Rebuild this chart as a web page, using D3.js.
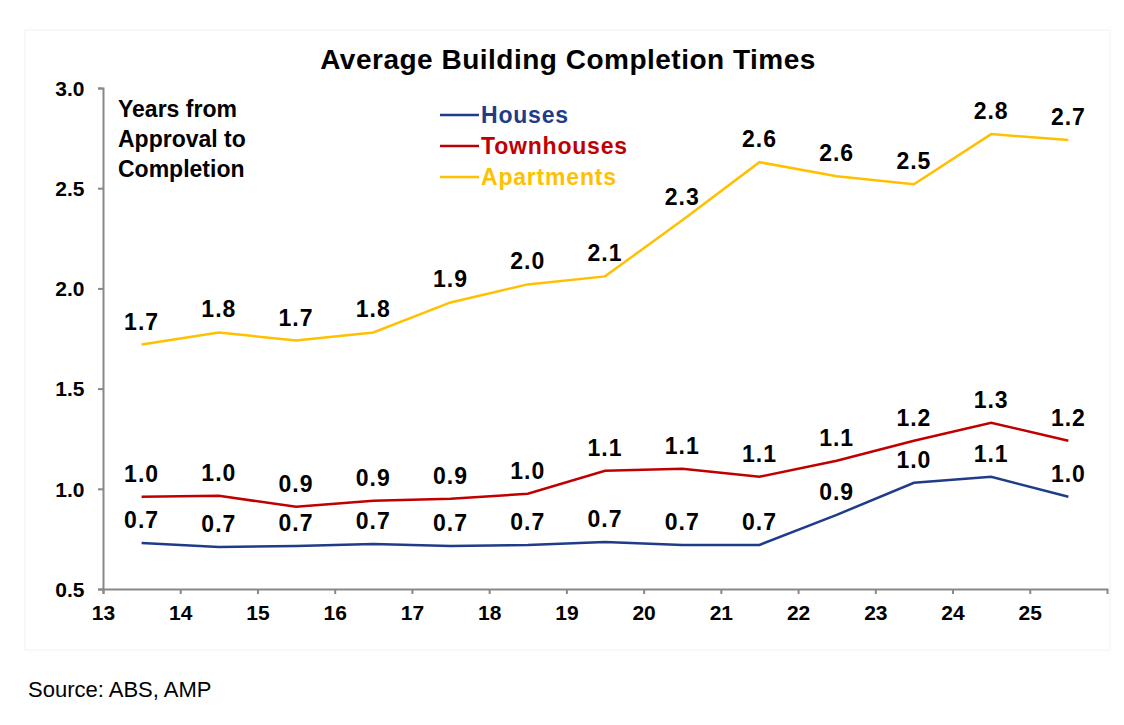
<!DOCTYPE html>
<html>
<head>
<meta charset="utf-8">
<style>
  body{margin:0;background:#fff;font-family:Arial,"Liberation Sans",sans-serif;}
  text{font-family:Arial,"Liberation Sans",sans-serif;}
  .tick text{font-size:21px;font-weight:bold;fill:#000;}
</style>
<script src="https://d3js.org/d3.v7.min.js"></script>
</head>
<body>
<script>
var years = [13,14,15,16,17,18,19,20,21,22,23,24,25];
var xTicks = [13,14,15,16,17,18,19,20,21,22,23,24,25];
var yTicks = [0.5,1.0,1.5,2.0,2.5,3.0];
var houses = [0.73,0.71,0.715,0.725,0.715,0.72,0.735,0.72,0.72,0.87,1.03,1.06,0.96];
var housesLbl = ['0.7','0.7','0.7','0.7','0.7','0.7','0.7','0.7','0.7','0.9','1.0','1.1','1.0'];
var town = [0.96,0.965,0.91,0.94,0.95,0.975,1.09,1.10,1.06,1.14,1.24,1.33,1.24];
var townLbl = ['1.0','1.0','0.9','0.9','0.9','1.0','1.1','1.1','1.1','1.1','1.2','1.3','1.2'];
var apts = [1.72,1.78,1.74,1.78,1.93,2.02,2.06,2.34,2.63,2.56,2.52,2.77,2.74];
var aptsLbl = ['1.7','1.8','1.7','1.8','1.9','2.0','2.1','2.3','2.6','2.6','2.5','2.8','2.7'];

var svg = d3.select('body').append('svg').attr('width',1124).attr('height',725);
svg.append('rect').attr('x',25).attr('y',30).attr('width',1085).attr('height',620)
  .attr('fill','none').attr('stroke','#f2f2f2');

var x = d3.scaleLinear().domain([13,26]).range([103,1107]);
var y = d3.scaleLinear().domain([0.5,3.0]).range([589,88]);

svg.append('text').attr('x',568).attr('y',69).attr('text-anchor','middle')
  .attr('font-size',28).attr('font-weight','bold').attr('letter-spacing',0.5)
  .text('Average Building Completion Times');

var gx = svg.append('g').attr('transform','translate(0,589)')
  .call(d3.axisBottom(x).tickValues(xTicks).tickSize(5).tickFormat(d3.format('d')));
gx.selectAll('text').attr('dy','1.1em');
var gy = svg.append('g').attr('transform','translate(103,0)')
  .call(d3.axisLeft(y).tickValues(yTicks).tickSize(5).tickFormat(d3.format('.1f')));
gy.selectAll('text').attr('dx','-0.5em').attr('dy','0.35em');
svg.selectAll('.domain, .tick line').attr('stroke','#888').attr('stroke-width',2);

var series = [
  {vals:apts, lbl:aptsLbl, col:'#FFC000', name:'Apartments'},
  {vals:town, lbl:townLbl, col:'#C00000', name:'Townhouses'},
  {vals:houses, lbl:housesLbl, col:'#1F3C88', name:'Houses'}
];
var line = d3.line().x((d,i)=>x(years[i]+0.5)).y(d=>y(d));
series.forEach(function(s){
  svg.append('path').datum(s.vals).attr('d',line).attr('fill','none')
    .attr('stroke',s.col).attr('stroke-width',2.5);
  svg.append('g').selectAll('text').data(s.vals).enter().append('text')
    .attr('x',(d,i)=>x(years[i]+0.5)).attr('y',d=>y(d)-15)
    .attr('text-anchor','middle').attr('font-size',23).attr('font-weight','bold')
    .attr('letter-spacing',1).text((d,i)=>s.lbl[i]);
});

['Years from','Approval to','Completion'].forEach(function(t,i){
  svg.append('text').attr('x',118).attr('y',117+i*30).attr('font-size',23)
    .attr('font-weight','bold').text(t);
});
[series[2],series[1],series[0]].forEach(function(s,i){
  var yy = 115+i*31;
  svg.append('line').attr('x1',440).attr('x2',479).attr('y1',yy).attr('y2',yy)
    .attr('stroke',s.col).attr('stroke-width',2.5);
  svg.append('text').attr('x',481).attr('y',yy+8).attr('font-size',23)
    .attr('font-weight','bold').attr('letter-spacing',0.8).attr('fill',s.col).text(s.name);
});

svg.append('text').attr('x',28).attr('y',697).attr('font-size',22).text('Source: ABS, AMP');
</script>
</body>
</html>
